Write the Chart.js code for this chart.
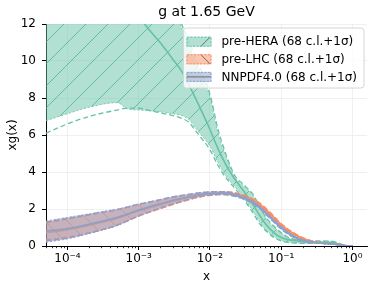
<!DOCTYPE html>
<html><head><meta charset="utf-8">
<script src="https://cdn.jsdelivr.net/npm/chart.js@4/dist/chart.umd.min.js"></script>
<style>html,body{margin:0;padding:0;background:#fff}</style>
</head><body>
<canvas id="c" width="374" height="289" style="width:374px;height:289px;display:block"></canvas>
<script>
const chartTitle = 'g at 1.65 GeV';
const xTitle = 'x';
const yTitle = 'xg(x)';
const seriesNames = ['pre-HERA (68 c.l.+1σ)', 'pre-LHC (68 c.l.+1σ)', 'NNPDF4.0 (68 c.l.+1σ)'];

// pre-HERA
const xHera = [5e-5, 1e-4, 2e-4, 5e-4, 7e-4, 1e-3, 1.5e-3, 2e-3, 3e-3, 4e-3, 5e-3, 7e-3, 1e-2, 1.3e-2, 1.7e-2, 2.2e-2, 3e-2, 4e-2, 5e-2, 6e-2, 8e-2, 0.1, 0.13, 0.18, 0.25, 0.35, 0.5, 0.6, 0.7, 0.8, 0.9, 1.0];
const heraCentral = [18.0, 16.8, 15.5, 13.8, 13.2, 12.4, 11.55, 11.0, 10.1, 9.45, 8.75, 7.6, 6.3, 5.25, 4.35, 3.65, 2.95, 2.25, 1.65, 1.2, 0.7, 0.46, 0.33, 0.26, 0.22, 0.2, 0.18, 0.13, 0.06, 0.01, 0, 0];
const heraUpper = [25, 24, 22.5, 20.5, 19.4, 18, 16.5, 15.2, 13.2, 11.8, 10.9, 9.6, 8.05, 6.1, 4.8, 3.75, 3.25, 2.75, 2.1, 1.55, 1.0, 0.7, 0.42, 0.3, 0.27, 0.26, 0.25, 0.18, 0.1, 0.03, 0.005, 0];
const heraLower = [6.77, 7.15, 7.5, 7.75, 7.4, 7.35, 7.3, 7.25, 7.15, 7.05, 6.85, 6.15, 5.4, 4.5, 3.75, 3.25, 2.6, 1.9, 1.3, 0.9, 0.5, 0.3, 0.2, 0.16, 0.15, 0.15, 0.13, 0.08, 0.03, 0, 0, 0];
const hera1sUp = [26, 25, 23, 21, 19.8, 18.5, 16.9, 15.5, 13.4, 12.0, 11.1, 9.8, 8.2, 6.3, 4.9, 3.85, 3.3, 2.8, 2.15, 1.6, 1.05, 0.72, 0.44, 0.31, 0.28, 0.27, 0.26, 0.19, 0.1, 0.03, 0.005, 0];
const hera1sLo = [6.1, 6.6, 7.0, 7.35, 7.45, 7.45, 7.3, 7.2, 7.05, 6.9, 6.7, 6.0, 5.2, 4.35, 3.65, 3.15, 2.5, 1.8, 1.2, 0.85, 0.45, 0.28, 0.18, 0.15, 0.14, 0.14, 0.12, 0.07, 0.03, 0, 0, 0];

// pre-LHC and NNPDF4.0
const xLow = [5e-5, 1e-4, 2e-4, 3e-4, 5e-4, 1e-3, 2e-3, 3e-3, 5e-3, 7e-3, 1e-2, 1.5e-2, 2e-2, 3e-2, 4e-2, 5e-2, 7e-2, 0.1, 0.15, 0.2, 0.3, 0.4, 0.5, 0.6, 0.7, 0.8, 0.9, 1.0];
const lhcCentral = [0.72, 0.88, 1.12, 1.28, 1.5, 1.9, 2.24, 2.43, 2.63, 2.75, 2.83, 2.86, 2.83, 2.67, 2.47, 2.24, 1.74, 1.14, 0.65, 0.41, 0.21, 0.15, 0.12, 0.09, 0.055, 0.02, 0.005, 0];
const lhcUpper = [1.28, 1.48, 1.7, 1.82, 1.97, 2.25, 2.49, 2.63, 2.78, 2.87, 2.93, 2.95, 2.92, 2.76, 2.56, 2.33, 1.83, 1.22, 0.72, 0.46, 0.24, 0.17, 0.14, 0.105, 0.065, 0.027, 0.008, 0];
const lhcLower = [0.25, 0.42, 0.68, 0.85, 1.1, 1.6, 2.0, 2.23, 2.48, 2.63, 2.73, 2.77, 2.74, 2.58, 2.38, 2.15, 1.65, 1.06, 0.58, 0.36, 0.18, 0.13, 0.1, 0.075, 0.045, 0.014, 0.003, 0];
const lhc1sUp = [1.24, 1.45, 1.67, 1.8, 1.95, 2.24, 2.48, 2.62, 2.77, 2.86, 2.92, 2.94, 2.91, 2.75, 2.55, 2.32, 1.82, 1.21, 0.71, 0.45, 0.235, 0.165, 0.135, 0.1, 0.062, 0.025, 0.007, 0];
const lhc1sLo = [0.33, 0.48, 0.72, 0.88, 1.13, 1.62, 2.02, 2.24, 2.49, 2.64, 2.74, 2.78, 2.75, 2.59, 2.39, 2.16, 1.66, 1.07, 0.59, 0.37, 0.185, 0.135, 0.105, 0.08, 0.048, 0.015, 0.003, 0];
const nnCentral = [0.80, 0.95, 1.18, 1.33, 1.55, 1.95, 2.28, 2.47, 2.66, 2.77, 2.84, 2.86, 2.8, 2.6, 2.35, 2.08, 1.55, 0.98, 0.5, 0.3, 0.19, 0.14, 0.11, 0.08, 0.05, 0.02, 0.004, 0];
const nnUpper = [1.35, 1.55, 1.74, 1.86, 2.0, 2.28, 2.52, 2.67, 2.8, 2.88, 2.93, 2.94, 2.88, 2.68, 2.43, 2.16, 1.63, 1.06, 0.56, 0.35, 0.22, 0.16, 0.13, 0.095, 0.06, 0.026, 0.006, 0];
const nnLower = [0.2, 0.38, 0.66, 0.84, 1.1, 1.62, 2.04, 2.27, 2.52, 2.66, 2.75, 2.78, 2.72, 2.52, 2.27, 2.0, 1.47, 0.9, 0.44, 0.25, 0.16, 0.12, 0.09, 0.065, 0.04, 0.014, 0.002, 0];
const nn1sUp = [1.3, 1.5, 1.7, 1.82, 1.97, 2.26, 2.5, 2.66, 2.79, 2.87, 2.92, 2.93, 2.87, 2.67, 2.42, 2.15, 1.62, 1.05, 0.55, 0.34, 0.215, 0.155, 0.125, 0.09, 0.057, 0.024, 0.005, 0];
const nn1sLo = [0.28, 0.43, 0.7, 0.87, 1.13, 1.64, 2.06, 2.28, 2.53, 2.67, 2.76, 2.79, 2.73, 2.53, 2.28, 2.01, 1.48, 0.91, 0.45, 0.26, 0.165, 0.125, 0.095, 0.07, 0.043, 0.016, 0.003, 0];

const xMajorTicks = [1e-4, 1e-3, 1e-2, 1e-1, 1];
const xTickLabels = ['10⁻⁴', '10⁻³', '10⁻²', '10⁻¹', '10⁰'];
const yTicks = [0, 2, 4, 6, 8, 10, 12];

const FONT = '"DejaVu Sans", "Liberation Sans", sans-serif';
const canvas = document.getElementById('c');
const mainCtx = canvas.getContext('2d');

function hatchPattern(fill, line, dir, size) {
  const t = document.createElement('canvas');
  t.width = size; t.height = size;
  const g = t.getContext('2d');
  g.fillStyle = fill; g.fillRect(0, 0, size, size);
  if (dir) {
    g.strokeStyle = line; g.lineWidth = 0.8;
    g.beginPath();
    if (dir === '/') {
      g.moveTo(-2, size + 2); g.lineTo(size + 2, -2);
    } else if (dir === '\\') {
      g.moveTo(-2, -2); g.lineTo(size + 2, size + 2);
    } else {
      g.moveTo(0, size / 2); g.lineTo(size, size / 2);
    }
    g.stroke();
  }
  return mainCtx.createPattern(t, 'repeat');
}

const families = [
  { name: seriesNames[0], xs: xHera, c: heraCentral, up: heraUpper, lo: heraLower, s1u: hera1sUp, s1l: hera1sLo, rgb: [102, 194, 165], hatch: '/', hatchCol: 'rgba(70,175,140,0.9)' },
  { name: seriesNames[1], xs: xLow, c: lhcCentral, up: lhcUpper, lo: lhcLower, s1u: lhc1sUp, s1l: lhc1sLo, rgb: [252, 141, 98], hatch: '\\', hatchCol: 'rgba(200,110,80,0.6)' },
  { name: seriesNames[2], xs: xLow, c: nnCentral, up: nnUpper, lo: nnLower, s1u: nn1sUp, s1l: nn1sLo, rgb: [141, 160, 203], hatch: null, hatchCol: null }
];

const pts = (xs, ys) => xs.map((x, i) => ({ x: x, y: ys[i] }));
const datasets = [];
let ord = 1000;
families.forEach(f => {
  const col = `rgb(${f.rgb.join(',')})`;
  const fillCol = `rgba(${f.rgb.join(',')},0.5)`;
  const base = { pointRadius: 0, pointHoverRadius: 0, cubicInterpolationMode: 'monotone' };
  const iUp = datasets.length;
  datasets.push(Object.assign({}, base, { label: f.name + ' upper', data: pts(f.xs, f.up), borderColor: col, borderWidth: 0.8, borderDash: [2, 2], fill: iUp + 1, backgroundColor: hatchPattern(fillCol, f.hatchCol, f.hatch, 22), order: ord-- }));
  datasets.push(Object.assign({}, base, { label: f.name + ' lower', data: pts(f.xs, f.lo), borderColor: col, borderWidth: 0.8, borderDash: [2, 2], fill: false, order: ord-- }));
  datasets.push(Object.assign({}, base, { label: f.name, data: pts(f.xs, f.c), borderColor: col, borderWidth: 1.6, fill: false, order: ord-- }));
  datasets.push(Object.assign({}, base, { label: f.name + ' +1σ', data: pts(f.xs, f.s1u), borderColor: col, borderWidth: 1.3, borderDash: [5, 3], fill: false, order: ord-- }));
  datasets.push(Object.assign({}, base, { label: f.name + ' -1σ', data: pts(f.xs, f.s1l), borderColor: col, borderWidth: 1.3, borderDash: [5, 3], fill: false, order: ord-- }));
});

const minorTicksPlugin = {
  id: 'minorTicks',
  afterDraw(chart) {
    const s = chart.scales.x, ctx = chart.ctx;
    ctx.save();
    ctx.strokeStyle = '#000'; ctx.lineWidth = 0.8;
    for (let e = -5; e <= 0; e++) {
      for (let m = 2; m <= 9; m++) {
        const v = m * Math.pow(10, e);
        if (v < s.min || v > s.max) continue;
        const px = Math.round(s.getPixelForValue(v)) + 0.5;
        ctx.beginPath(); ctx.moveTo(px, s.top); ctx.lineTo(px, s.top + 2.2); ctx.stroke();
      }
    }
    ctx.restore();
  }
};

const legendPlugin = {
  id: 'bandLegend',
  afterDraw(chart) {
    const ctx = chart.ctx, a = chart.chartArea;
    ctx.save();
    ctx.font = '12px ' + FONT;
    const tw = Math.max(...families.map(f => ctx.measureText(f.name).width));
    const padL = 3, patchW = 25, patchH = 10, gap = 10, padR = 7, rowH = 17.6;
    const w = padL + patchW + gap + tw + padR;
    const h = 60;
    const x0 = a.right - 3 - w, y0 = a.top + 4;
    const r = 3;
    ctx.beginPath();
    ctx.moveTo(x0 + r, y0); ctx.lineTo(x0 + w - r, y0); ctx.quadraticCurveTo(x0 + w, y0, x0 + w, y0 + r);
    ctx.lineTo(x0 + w, y0 + h - r); ctx.quadraticCurveTo(x0 + w, y0 + h, x0 + w - r, y0 + h);
    ctx.lineTo(x0 + r, y0 + h); ctx.quadraticCurveTo(x0, y0 + h, x0, y0 + h - r);
    ctx.lineTo(x0, y0 + r); ctx.quadraticCurveTo(x0, y0, x0 + r, y0);
    ctx.closePath();
    ctx.fillStyle = 'rgba(255,255,255,0.8)'; ctx.fill();
    ctx.strokeStyle = '#d6d6d6'; ctx.lineWidth = 1; ctx.stroke();
    families.forEach((f, i) => {
      const cy = y0 + 13.7 + i * rowH;
      const px = x0 + padL, py = cy - patchH / 2;
      ctx.fillStyle = `rgba(${f.rgb.join(',')},0.5)`;
      ctx.fillRect(px, py, patchW, patchH);
      ctx.save();
      ctx.beginPath(); ctx.rect(px, py, patchW, patchH); ctx.clip();
      ctx.strokeStyle = 'rgba(90,90,90,0.85)'; ctx.lineWidth = 1;
      ctx.beginPath();
      if (i === 0) { ctx.moveTo(px + 14, py + patchH); ctx.lineTo(px + 24, py); }
      else if (i === 1) { ctx.moveTo(px + 14, py); ctx.lineTo(px + 24, py + patchH); }
      else { ctx.moveTo(px, cy); ctx.lineTo(px + patchW, cy); }
      ctx.stroke();
      ctx.restore();
      ctx.strokeStyle = `rgb(${f.rgb.join(',')})`; ctx.lineWidth = 1; ctx.setLineDash([2, 1.5]);
      ctx.strokeRect(px + 0.5, py + 0.5, patchW - 1, patchH - 1);
      ctx.setLineDash([]);
      ctx.fillStyle = '#000'; ctx.textBaseline = 'middle'; ctx.textAlign = 'left';
      ctx.fillText(f.name, px + patchW + gap, cy + 0.5);
    });
    ctx.restore();
  }
};

new Chart(canvas, {
  type: 'line',
  data: { datasets: datasets },
  plugins: [minorTicksPlugin, legendPlugin],
  options: {
    responsive: false, animation: false, devicePixelRatio: 1,
    layout: { padding: { left: 0, right: 7, top: 0, bottom: 0 } },
    plugins: {
      legend: { display: false },
      tooltip: { enabled: false },
      title: { display: true, text: chartTitle, fullSize: false, color: '#000', font: { family: FONT, size: 14, weight: 'normal' }, padding: { top: 4, bottom: 3.2 } }
    },
    scales: {
      x: {
        type: 'logarithmic', min: 5e-5, max: 1.6,
        afterBuildTicks: ax => { ax.ticks = xMajorTicks.map(v => ({ value: v, major: true })); },
        afterFit: s => { s.height = 43; },
        ticks: { autoSkip: false, maxRotation: 0, color: '#000', font: { family: FONT, size: 12 }, padding: 2,
          callback: (v) => { const i = xMajorTicks.findIndex(m => Math.abs(Math.log10(v) - Math.log10(m)) < 1e-6); return i >= 0 ? xTickLabels[i] : ''; } },
        grid: { color: '#ececec', lineWidth: 0.8, tickColor: '#000', tickLength: 4, tickWidth: 1 },
        border: { color: '#000', width: 1 },
        title: { display: true, text: xTitle, color: '#000', font: { family: FONT, size: 12 }, padding: { top: 0, bottom: 5 } }
      },
      y: {
        min: 0, max: 12,
        afterBuildTicks: ax => { ax.ticks = yTicks.map(v => ({ value: v })); },
        afterFit: s => { s.width = 46; },
        ticks: { color: '#000', font: { family: FONT, size: 12 }, padding: 6 },
        grid: { color: '#ececec', lineWidth: 0.8, tickColor: '#000', tickLength: 4, tickWidth: 1 },
        border: { color: '#000', width: 1 },
        title: { display: true, text: yTitle, color: '#000', font: { family: FONT, size: 12 }, padding: { top: 6, bottom: 0 } }
      }
    }
  }
});
</script>
</body></html>
